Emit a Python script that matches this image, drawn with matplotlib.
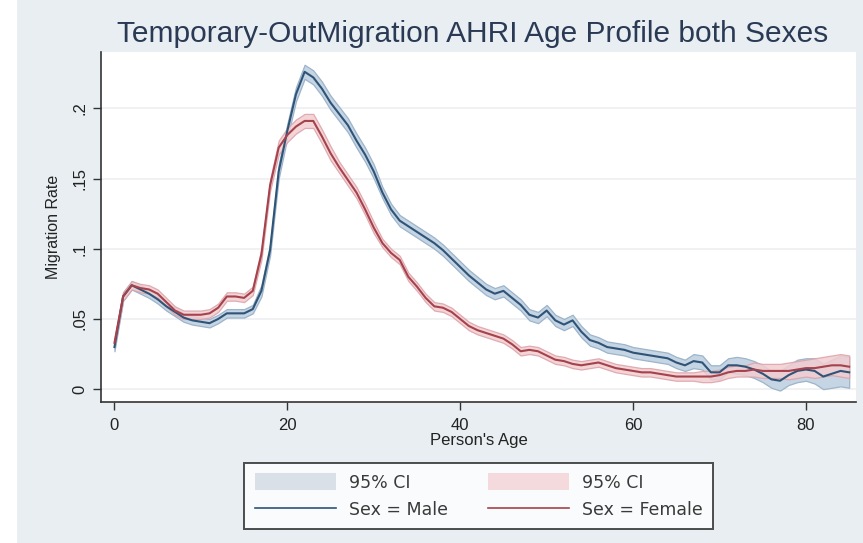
import numpy as np
import matplotlib.pyplot as plt
from matplotlib.patches import Patch, Rectangle
from matplotlib.lines import Line2D

# age profile (age 0 .. 85)
ages = np.arange(0, 86)

male_rate = [0.030, 0.066, 0.074, 0.071, 0.068, 0.064, 0.059, 0.055, 0.051, 0.049,
             0.048, 0.047, 0.050, 0.054, 0.054, 0.054, 0.057, 0.070, 0.099, 0.155,
             0.184, 0.210, 0.226, 0.222, 0.214, 0.204, 0.196, 0.188, 0.177, 0.167,
             0.155, 0.140, 0.128, 0.120, 0.116, 0.112, 0.108, 0.104, 0.099, 0.093,
             0.087, 0.081, 0.076, 0.071, 0.068, 0.070, 0.065, 0.060, 0.053, 0.051,
             0.056, 0.049, 0.046, 0.049, 0.041, 0.035, 0.033, 0.030, 0.029, 0.028,
             0.026, 0.025, 0.024, 0.023, 0.022, 0.019, 0.017, 0.020, 0.019, 0.012,
             0.012, 0.017, 0.017, 0.016, 0.014, 0.011, 0.007, 0.006, 0.010, 0.013,
             0.014, 0.013, 0.009, 0.011, 0.013, 0.012]

female_rate = [0.033, 0.066, 0.074, 0.072, 0.071, 0.068, 0.062, 0.056, 0.053, 0.053,
               0.053, 0.054, 0.058, 0.066, 0.066, 0.065, 0.070, 0.096, 0.145, 0.172,
               0.181, 0.187, 0.191, 0.191, 0.180, 0.168, 0.158, 0.149, 0.140, 0.128,
               0.115, 0.104, 0.097, 0.092, 0.080, 0.073, 0.065, 0.059, 0.058, 0.055,
               0.050, 0.045, 0.042, 0.040, 0.038, 0.036, 0.032, 0.027, 0.028, 0.027,
               0.024, 0.021, 0.020, 0.018, 0.017, 0.018, 0.019, 0.017, 0.015, 0.014,
               0.013, 0.012, 0.012, 0.011, 0.010, 0.009, 0.009, 0.009, 0.009, 0.009,
               0.010, 0.012, 0.013, 0.013, 0.014, 0.013, 0.013, 0.013, 0.013, 0.014,
               0.015, 0.015, 0.016, 0.017, 0.017, 0.016]

# half width of the 95% CI band
male_ci_half = [0.003, 0.003, 0.003, 0.003, 0.003, 0.003, 0.003, 0.003, 0.003, 0.003,
                0.003, 0.003, 0.003, 0.003, 0.003, 0.003, 0.003, 0.004, 0.004, 0.005,
                0.005, 0.005, 0.005, 0.005, 0.005, 0.005, 0.005, 0.005, 0.005, 0.005,
                0.005, 0.004, 0.004, 0.004, 0.004, 0.004, 0.004, 0.004, 0.004, 0.004,
                0.004, 0.004, 0.004, 0.004, 0.004, 0.004, 0.004, 0.004, 0.004, 0.004,
                0.004, 0.004, 0.004, 0.004, 0.004, 0.004, 0.004, 0.004, 0.004, 0.004,
                0.004, 0.004, 0.004, 0.004, 0.004, 0.004, 0.004, 0.005, 0.005, 0.005,
                0.005, 0.005, 0.006, 0.006, 0.006, 0.006, 0.006, 0.007, 0.007, 0.008,
                0.008, 0.009, 0.009, 0.010, 0.011, 0.011]

female_ci_half = [0.003, 0.003, 0.003, 0.003, 0.003, 0.003, 0.003, 0.003, 0.003, 0.003,
                  0.003, 0.003, 0.003, 0.003, 0.003, 0.003, 0.003, 0.004, 0.004, 0.005,
                  0.005, 0.005, 0.005, 0.005, 0.005, 0.005, 0.004, 0.004, 0.004, 0.004,
                  0.004, 0.003, 0.003, 0.003, 0.003, 0.003, 0.003, 0.003, 0.003, 0.003,
                  0.003, 0.003, 0.003, 0.003, 0.003, 0.003, 0.003, 0.003, 0.003, 0.003,
                  0.003, 0.003, 0.003, 0.003, 0.003, 0.003, 0.003, 0.003, 0.003, 0.003,
                  0.003, 0.003, 0.003, 0.003, 0.003, 0.003, 0.003, 0.003, 0.004, 0.004,
                  0.004, 0.004, 0.004, 0.004, 0.005, 0.005, 0.005, 0.005, 0.006, 0.006,
                  0.006, 0.007, 0.007, 0.007, 0.008, 0.008]

x_ticks = [0, 20, 40, 60, 80]
y_ticks = [0, 0.05, 0.1, 0.15, 0.2]
y_ticklabels = ["0", ".05", ".1", ".15", ".2"]

plt.rcParams['font.family'] = ['Liberation Sans', 'DejaVu Sans']

bg = '#e8eef1'
male_col = '#2f5478'
female_col = '#a5424c'

fig = plt.figure(figsize=(8.63, 5.43), dpi=100, facecolor=bg)

# white strip at the left edge of the screenshot
fig.add_artist(Rectangle((0, 0), 17 / 863, 1, transform=fig.transFigure,
                         facecolor='white', edgecolor='none', zorder=0))

ax = fig.add_axes([0.117, 0.26, 0.875, 0.644])
ax.set_facecolor('white')

m = np.array(male_rate)
f = np.array(female_rate)
mh = np.array(male_ci_half)
fh = np.array(female_ci_half)

# CI bands
ax.fill_between(ages, m - mh, m + mh, facecolor='#c5d5e4', edgecolor='#9db4ca',
                linewidth=0.9, zorder=2)
ax.fill_between(ages, f - fh, f + fh, facecolor='#f1cdd1', edgecolor='#dba1a8',
                linewidth=0.9, alpha=0.85, zorder=3)
ax.plot(ages, m, color=male_col, lw=1.5, zorder=4)
ax.plot(ages, f, color=female_col, lw=1.5, zorder=5)

ax.set_xlim(-1.56, 85.8)
ax.set_ylim(-0.009, 0.240)
ax.set_xticks(x_ticks)
ax.set_yticks(y_ticks)
ax.set_yticklabels(y_ticklabels, rotation=90, va='center')
ax.tick_params(axis='both', direction='out', length=6, width=1, color='#333333',
               labelsize=12, labelcolor='#222222')
ax.tick_params(axis='y', pad=4)
ax.tick_params(axis='x', pad=6)
ax.grid(axis='y', color='#eceff1', linewidth=1.2, zorder=0)
ax.set_axisbelow(True)

for s in ['top', 'right']:
    ax.spines[s].set_visible(False)
for s in ['left', 'bottom']:
    ax.spines[s].set_color('#333333')
    ax.spines[s].set_linewidth(1.2)

ax.set_xlabel("Person's Age", fontsize=12, color='#222222', labelpad=0)
ax.set_ylabel("Migration Rate", fontsize=11.5, color='#222222', labelpad=8)

fig.text(0.5475, 1 - 41.5 / 543, "Temporary-OutMigration AHRI Age Profile both Sexes",
         ha='center', va='baseline', fontsize=21.5, color='#2a3a55')

handles = [Patch(facecolor='#d9e0e8', edgecolor='none'),
           Line2D([], [], color=male_col, lw=1.2),
           Patch(facecolor='#f4d9dd', edgecolor='none'),
           Line2D([], [], color=female_col, lw=1.2)]
labels = ["95% CI", "Sex = Male", "95% CI", "Sex = Female"]
leg = fig.legend(handles, labels, ncol=2, loc='center', bbox_to_anchor=(0.5545, 0.0866),
                 prop={'family': 'DejaVu Sans', 'size': 12.5},
                 frameon=True, fancybox=False, edgecolor='#222222',
                 handlelength=4.67, handleheight=1.15, columnspacing=2.3,
                 handletextpad=0.75, borderpad=0.6, labelspacing=0.5,
                 borderaxespad=0)
leg.get_frame().set_linewidth(1.4)
for t in leg.get_texts():
    t.set_color('#3a3a3a')

fig.savefig('out.png', dpi=100, facecolor=fig.get_facecolor())
